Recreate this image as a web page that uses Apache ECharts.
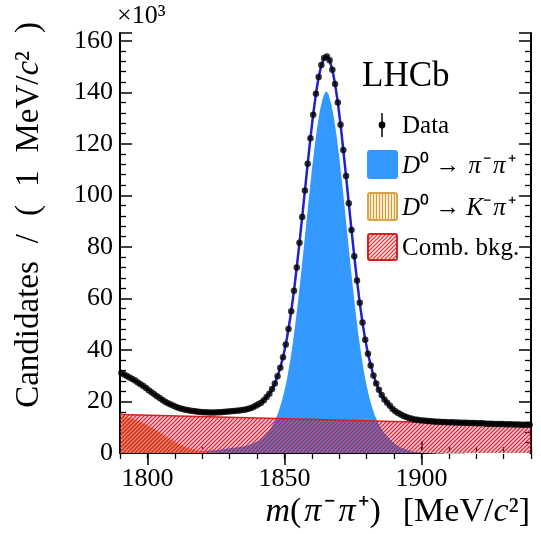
<!DOCTYPE html>
<html><head><meta charset="utf-8">
<script src="https://cdn.jsdelivr.net/npm/echarts@6/dist/echarts.min.js"></script>
<style>html,body{margin:0;padding:0;background:#fff}#c{width:541px;height:534px}</style>
</head><body><div id="c"></div>
<script>
// ---- data (values in units of 10^3 candidates per 1 MeV/c^2) ----
const massBins = [
1790.5,1791.5,1792.5,1793.5,1794.5,1795.5,1796.5,1797.5,1798.5,1799.5,
1800.5,1801.5,1802.5,1803.5,1804.5,1805.5,1806.5,1807.5,1808.5,1809.5,
1810.5,1811.5,1812.5,1813.5,1814.5,1815.5,1816.5,1817.5,1818.5,1819.5,
1820.5,1821.5,1822.5,1823.5,1824.5,1825.5,1826.5,1827.5,1828.5,1829.5,
1830.5,1831.5,1832.5,1833.5,1834.5,1835.5,1836.5,1837.5,1838.5,1839.5,
1840.5,1841.5,1842.5,1843.5,1844.5,1845.5,1846.5,1847.5,1848.5,1849.5,
1850.5,1851.5,1852.5,1853.5,1854.5,1855.5,1856.5,1857.5,1858.5,1859.5,
1860.5,1861.5,1862.5,1863.5,1864.5,1865.5,1866.5,1867.5,1868.5,1869.5,
1870.5,1871.5,1872.5,1873.5,1874.5,1875.5,1876.5,1877.5,1878.5,1879.5,
1880.5,1881.5,1882.5,1883.5,1884.5,1885.5,1886.5,1887.5,1888.5,1889.5,
1890.5,1891.5,1892.5,1893.5,1894.5,1895.5,1896.5,1897.5,1898.5,1899.5,
1900.5,1901.5,1902.5,1903.5,1904.5,1905.5,1906.5,1907.5,1908.5,1909.5,
1910.5,1911.5,1912.5,1913.5,1914.5,1915.5,1916.5,1917.5,1918.5,1919.5,
1920.5,1921.5,1922.5,1923.5,1924.5,1925.5,1926.5,1927.5,1928.5,1929.5,
1930.5,1931.5,1932.5,1933.5,1934.5,1935.5,1936.5,1937.5,1938.5,1939.5];

const dataCounts = [
31.0,30.5,29.9,29.3,28.7,28.1,27.4,26.7,26.0,25.2,
24.4,23.6,22.8,22.0,21.3,20.6,19.9,19.3,18.8,18.3,
17.9,17.5,17.2,16.9,16.7,16.5,16.3,16.2,16.0,15.9,
15.8,15.8,15.7,15.7,15.7,15.8,15.8,15.9,16.0,16.1,
16.2,16.3,16.4,16.5,16.7,16.8,17.1,17.4,17.8,18.3,
18.9,19.5,20.5,21.7,23.0,24.8,27.0,29.8,33.1,37.2,
42.1,48.1,55.0,63.0,72.0,81.6,91.6,101.9,112.3,122.2,
131.3,139.4,145.9,150.6,153.3,153.9,152.4,148.7,143.2,136.0,
127.4,117.6,107.5,96.9,86.5,76.4,66.9,58.3,50.6,44.0,
38.5,34.0,30.1,27.0,24.5,22.5,20.8,19.5,18.3,17.1,
16.2,15.5,14.9,14.4,14.0,13.6,13.3,13.0,12.9,12.7,
12.6,12.5,12.4,12.3,12.2,12.1,12.1,12.0,12.0,11.9,
11.9,11.9,11.8,11.8,11.7,11.7,11.7,11.6,11.6,11.6,
11.5,11.5,11.5,11.4,11.4,11.4,11.3,11.3,11.3,11.3,
11.2,11.2,11.2,11.1,11.1,11.1,11.0,11.0,11.0,11.0];

const signalCounts = [
0.6,0.6,0.62,0.63,0.64,0.65,0.66,0.67,0.68,0.7,
0.72,0.73,0.75,0.76,0.78,0.8,0.82,0.84,0.86,0.88,
0.9,0.92,0.94,0.96,0.98,1.0,1.04,1.08,1.12,1.16,
1.2,1.28,1.36,1.45,1.55,1.65,1.8,1.95,2.1,2.25,
2.4,2.5,2.65,2.8,2.95,3.15,3.5,3.8,4.2,4.7,
5.3,6.0,7.0,8.2,9.6,11.4,13.6,16.4,19.8,23.9,
28.8,34.8,41.8,49.8,58.8,68.4,78.5,88.8,99.2,109.2,
118.3,126.4,132.9,137.7,140.4,141.0,139.5,135.9,130.4,123.2,
114.6,104.9,94.8,84.2,73.8,63.8,54.3,45.7,38.1,31.5,
26.0,21.5,17.7,14.6,12.1,10.1,8.5,7.2,6.0,4.9,
4.0,3.3,2.7,2.3,1.9,1.5,1.2,1.0,0.85,0.7,
0.6,0.52,0.46,0.4,0.36,0.32,0.29,0.26,0.24,0.22,
0.2,0.19,0.18,0.17,0.16,0.15,0.14,0.13,0.12,0.12,
0.11,0.11,0.1,0.1,0.09,0.09,0.08,0.08,0.08,0.07,
0.07,0.07,0.06,0.06,0.06,0.05,0.05,0.05,0.05,0.05];

// D0 -> K- pi+ misidentified component (first bins only)
const kpiCounts = [
14.5,14.3,14.0,13.7,13.4,13.0,12.6,12.1,11.6,11.1,
10.5,9.9,9.3,8.7,8.0,7.3,6.6,5.9,5.3,4.7,
4.1,3.5,3.0,2.5,2.1,1.7,1.4,1.1,0.9,0.7,
0.5,0.35,0.25,0.15,0.1,0.05,0];

// combinatorial background (straight line)
const combMass = [1790, 1940];
const combCounts = [14.9, 10.9];

const xMajorTicks = [1800, 1850, 1900];

// ---- helpers ----
const pairs = (xs, ys) => ys.map((y, i) => [xs[i], y]);
const SERIF = '"Liberation Serif", "Times New Roman", serif';

function diagHatch(size, bg, line, lw) {
  const c = document.createElement('canvas'); c.width = size; c.height = size;
  const g = c.getContext('2d');
  if (bg) { g.fillStyle = bg; g.fillRect(0, 0, size, size); }
  g.strokeStyle = line; g.lineWidth = lw; g.beginPath();
  g.moveTo(0, size); g.lineTo(size, 0);
  g.moveTo(-1, 1); g.lineTo(1, -1);
  g.moveTo(size - 1, size + 1); g.lineTo(size + 1, size - 1);
  g.stroke();
  return c;
}
function vertHatch(size, bg, line, lw) {
  const c = document.createElement('canvas'); c.width = size; c.height = size;
  const g = c.getContext('2d');
  g.fillStyle = bg; g.fillRect(0, 0, size, size);
  g.strokeStyle = line; g.lineWidth = lw; g.beginPath();
  g.moveTo(size / 2, 0); g.lineTo(size / 2, size); g.stroke();
  return c;
}
const combPattern = { image: diagHatch(4, 'rgba(205,30,100,0.27)', 'rgba(205,25,25,0.95)', 1.1), repeat: 'repeat' };
const combLegendPattern = { image: diagHatch(4, 'rgba(240,120,120,0.25)', 'rgba(215,40,40,0.95)', 1.1), repeat: 'repeat' };
const kpiLegendPattern = { image: vertHatch(3, '#fcefd3', '#d99a3c', 1.1), repeat: 'repeat' };

const G = { left: 120, top: 33, width: 411, height: 420, outerBoundsMode: 'none' };
const black = '#000';
const axisLine = { show: true, lineStyle: { color: black, width: 2 } };
const rn = (sz) => ({
  n: { fontSize: sz, fontFamily: SERIF, fill: black },
  i: { fontSize: sz, fontFamily: SERIF, fontStyle: 'italic', fill: black },
  p: { fontSize: sz, fontFamily: SERIF, fontStyle: 'italic', fill: black, padding: [0, 2, 0, 2] }
});

const chart = echarts.init(document.getElementById('c'), null, { renderer: 'canvas' });
chart.setOption({
  animation: false,
  backgroundColor: '#fff',
  grid: [Object.assign({}, G), Object.assign({}, G), Object.assign({}, G), Object.assign({}, G)],
  xAxis: [
    { gridIndex: 0, type: 'value', position: 'bottom', min: 1790, max: 1940, interval: 10,
      axisLine, axisTick: { inside: true, length: 6, lineStyle: { color: black, width: 1.3 } },
      axisLabel: { show: false }, splitLine: { show: false } },
    { gridIndex: 1, type: 'value', position: 'bottom', min: 1790, max: 1940, interval: 50,
      axisLine: { show: false },
      axisTick: { inside: true, length: 12, customValues: xMajorTicks, lineStyle: { color: black, width: 1.5 } },
      axisLabel: { customValues: xMajorTicks, fontSize: 26, fontFamily: SERIF, color: black, margin: 13,
        formatter: v => String(v) },
      splitLine: { show: false } },
    { gridIndex: 2, type: 'value', position: 'top', min: 1790, max: 1940, interval: 10,
      axisLine, axisTick: { inside: true, length: 6, lineStyle: { color: black, width: 1.3 } },
      axisLabel: { show: false }, splitLine: { show: false } },
    { gridIndex: 3, type: 'value', position: 'top', min: 1790, max: 1940, interval: 50,
      axisLine: { show: false },
      axisTick: { inside: true, length: 12, customValues: xMajorTicks, lineStyle: { color: black, width: 1.5 } },
      axisLabel: { show: false }, splitLine: { show: false } }
  ],
  yAxis: [
    { gridIndex: 0, type: 'value', position: 'left', min: 0, max: 163, interval: 20,
      axisLine, axisTick: { inside: true, length: 12, lineStyle: { color: black, width: 1.5 } },
      minorTick: { show: true, splitNumber: 5, length: 6, lineStyle: { color: black, width: 1.3 } },
      axisLabel: { fontSize: 26, fontFamily: SERIF, color: black, margin: 7,
        formatter: v => (v % 20 === 0 ? String(v) : '') },
      splitLine: { show: false }, minorSplitLine: { show: false } },
    { gridIndex: 1, type: 'value', position: 'right', min: 0, max: 163, interval: 20,
      axisLine, axisTick: { inside: true, length: 12, lineStyle: { color: black, width: 1.5 } },
      minorTick: { show: true, splitNumber: 5, length: 6, lineStyle: { color: black, width: 1.3 } },
      axisLabel: { show: false }, splitLine: { show: false } },
    { gridIndex: 2, type: 'value', min: 0, max: 163, show: false },
    { gridIndex: 3, type: 'value', min: 0, max: 163, show: false }
  ],
  series: [
    { name: 'signal', type: 'line', data: pairs(massBins, signalCounts), showSymbol: false, silent: true,
      lineStyle: { color: '#ffffff', width: 2.5 }, areaStyle: { color: '#3399ff', opacity: 1 }, z: 2 },
    { name: 'kpi', type: 'line', data: pairs(massBins, kpiCounts), showSymbol: false, silent: true,
      lineStyle: { width: 0 }, areaStyle: { color: '#f0a35a', opacity: 1 }, z: 3 },
    { name: 'comb', type: 'line', data: pairs(combMass, combCounts), showSymbol: false, silent: true,
      lineStyle: { color: '#d42020', width: 1.5 }, areaStyle: { color: combPattern, opacity: 1 }, z: 4 },
    { name: 'fit', type: 'line', data: pairs(massBins, dataCounts), showSymbol: false, silent: true,
      lineStyle: { color: '#2222cc', width: 2.5 }, z: 5 },
    { name: 'data', type: 'scatter', data: pairs(massBins, dataCounts), symbol: 'circle', symbolSize: 6.5,
      itemStyle: { color: '#000' }, silent: true, z: 6 }
  ],
  graphic: [
    { type: 'text', x: 117, y: 16, style: { text: '×10³', fontSize: 26, fontFamily: SERIF, fill: black,
      align: 'left', verticalAlign: 'middle' } },
    { type: 'text', x: 362, y: 77, style: { text: 'LHCb', fontSize: 35, fontFamily: SERIF, fill: black,
      align: 'left', verticalAlign: 'middle' } },
    { type: 'text', x: 29, y: 22, rotation: Math.PI / 2,
      style: { text: '{n|Candidates}{g| }{n|/}{g| }{n|(}{g| }{n|1}{g| }{n|MeV/}{i|c}{n|²}{g| }{n|)}',
        align: 'right', verticalAlign: 'middle',
        rich: Object.assign(rn(33), { g: { fontSize: 33, fontFamily: SERIF, width: 18 } }) } },
    { type: 'text', x: 530, y: 512,
      style: { text: '{i|m}{n|(}{p|π}{n|⁻}{p|π}{n|⁺)}{g| }{n|[MeV/}{i|c}{n|²]}', align: 'right', verticalAlign: 'middle',
        rich: Object.assign(rn(34), { g: { fontSize: 34, fontFamily: SERIF, width: 22 },
          p: { fontSize: 34, fontFamily: SERIF, fontStyle: 'italic', fill: black, padding: [0, 3, 0, 3] } }) } },
    // legend
    { type: 'line', shape: { x1: 382, y1: 113, x2: 382, y2: 137 }, style: { stroke: black, lineWidth: 1.5 } },
    { type: 'circle', shape: { cx: 382, cy: 125, r: 3.4 }, style: { fill: black } },
    { type: 'text', x: 402, y: 126, style: { text: 'Data', fontSize: 25, fontFamily: SERIF, fill: black,
      align: 'left', verticalAlign: 'middle' } },
    { type: 'rect', shape: { x: 367, y: 150, width: 31, height: 29, r: 3 }, style: { fill: '#3399ff' } },
    { type: 'text', x: 402, y: 166,
      style: { text: '{i|D}{n|⁰ → }{p|π}{n|⁻}{p|π}{n|⁺}', align: 'left', verticalAlign: 'middle', rich: rn(25) } },
    { type: 'rect', shape: { x: 368, y: 193, width: 29, height: 27, r: 2 },
      style: { fill: kpiLegendPattern, stroke: '#d8a24a', lineWidth: 2 } },
    { type: 'text', x: 402, y: 208,
      style: { text: '{i|D}{n|⁰ → }{i|K}{n|⁻}{p|π}{n|⁺}', align: 'left', verticalAlign: 'middle', rich: rn(25) } },
    { type: 'rect', shape: { x: 368, y: 234, width: 29, height: 26, r: 2 },
      style: { fill: combLegendPattern, stroke: '#d42020', lineWidth: 2 } },
    { type: 'text', x: 402, y: 248, style: { text: 'Comb. bkg.', fontSize: 25, fontFamily: SERIF, fill: black,
      align: 'left', verticalAlign: 'middle' } }
  ]
});
</script>
</body></html>
